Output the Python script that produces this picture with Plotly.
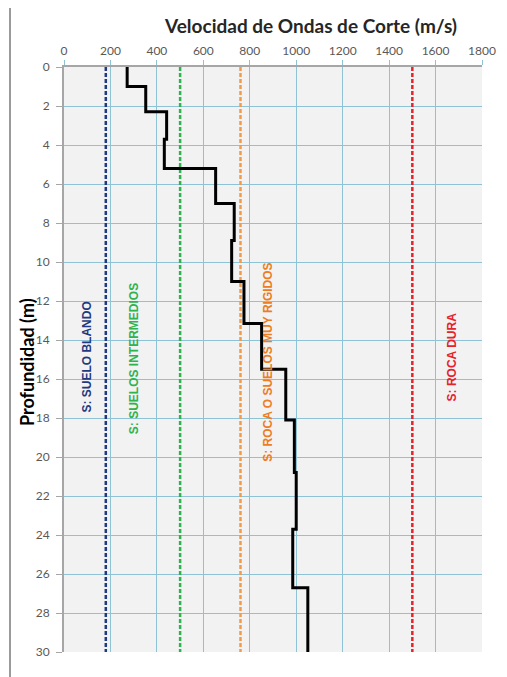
import plotly.graph_objects as go

# ---- data ----
layer_bounds = [0, 1.0, 2.3, 3.7, 5.2, 7.0, 8.9, 11.0, 13.15, 15.5, 18.1, 20.8, 23.7, 26.7, 30]
vs_values = [272, 352, 442, 432, 653, 733, 722, 775, 851, 955, 992, 1000, 985, 1050]

ref_values = [180, 500, 760, 1500]
ref_colors = ["#1f3a80", "#2fb34f", "#f29a4c", "#e5232b"]
ref_labels = ["S: SUELO BLANDO", "S: SUELOS INTERMEDIOS", "S: ROCA O SUELOS MUY RIGIDOS", "S: ROCA DURA"]
label_colors = ["#1f3a80", "#2fb34f", "#ee7d22", "#e5232b"]
label_x = [95, 300, 880, 1670]
label_y = [14.9, 14.95, 15.15, 14.85]

x_ticks = list(range(0, 1801, 200))
y_ticks = list(range(0, 31, 2))

# ---- build step profile ----
px, py = [], []
for i, v in enumerate(vs_values):
    px += [v, v]
    py += [layer_bounds[i], layer_bounds[i + 1]]

fig = go.Figure()

for v, c in zip(ref_values, ref_colors):
    fig.add_trace(go.Scatter(x=[v, v], y=[0, 30], mode="lines",
                             line=dict(color=c, width=2.5, dash="4px,2px"),
                             hoverinfo="skip", showlegend=False))

fig.add_trace(go.Scatter(x=px, y=py, mode="lines",
                         line=dict(color="black", width=3),
                         showlegend=False))

for t, c, xx, yy in zip(ref_labels, label_colors, label_x, label_y):
    fig.add_annotation(x=xx, y=yy, xref="x", yref="y", text="<b>" + t + "</b>",
                       textangle=-90, showarrow=False,
                       font=dict(family="Liberation Sans Narrow, Liberation Sans, Arial", size=12, color=c))

grid_c = "#8ec3d6"
fig.update_xaxes(side="top", range=[0, 1800], tickvals=x_ticks, automargin=False,
                 showgrid=True, gridcolor=grid_c, gridwidth=1.2,
                 showline=True, linecolor="#a6a6a6", linewidth=2,
                 ticks="outside", ticklen=5, tickcolor=grid_c,
                 tickfont=dict(family="Lato, Open Sans, sans-serif", size=12, color="#595959"),
                 zeroline=False)
fig.update_yaxes(range=[30, 0], tickvals=y_ticks, automargin=False,
                 showgrid=True, gridcolor=grid_c, gridwidth=1.2,
                 showline=True, linecolor="#a6a6a6", linewidth=2,
                 ticks="outside", ticklen=6, tickcolor="#a6a6a6",
                 ticklabelstandoff=4,
                 tickfont=dict(family="Lato, Open Sans, sans-serif", size=12, color="#595959"),
                 zeroline=False)

fig.add_annotation(x=(310 - 64) / 418, y=(652.3 - 25) / 585.6, xref="paper", yref="paper",
                   text="<b>Velocidad de Ondas de Corte (m/s)</b>", showarrow=False,
                   xanchor="center", yanchor="middle",
                   font=dict(family="Lato, Open Sans, sans-serif", size=19, color="#262626"))
fig.add_annotation(x=(27 - 64) / 418, y=(652.3 - 362) / 585.6, xref="paper", yref="paper",
                   text="<b>Profundidad (m)</b>", showarrow=False, textangle=-90,
                   xanchor="center", yanchor="middle",
                   font=dict(family="Lato, Open Sans, sans-serif", size=18, color="black"))

# outer frame
fig.add_shape(type="rect", xref="paper", yref="paper",
              x0=(10 - 64) / 418, x1=(540 - 64) / 418,
              y0=(652.3 - 700) / 585.6, y1=(652.3 - 4) / 585.6,
              line=dict(color="#9a9a9a", width=2), layer="below")

# page body adds an 8px offset, so margins are reduced accordingly
fig.update_layout(width=499, height=669,
                  margin=dict(l=56, r=25, t=59, b=25),
                  paper_bgcolor="white", plot_bgcolor="#f2f2f2")

fig.write_html("out.html")
